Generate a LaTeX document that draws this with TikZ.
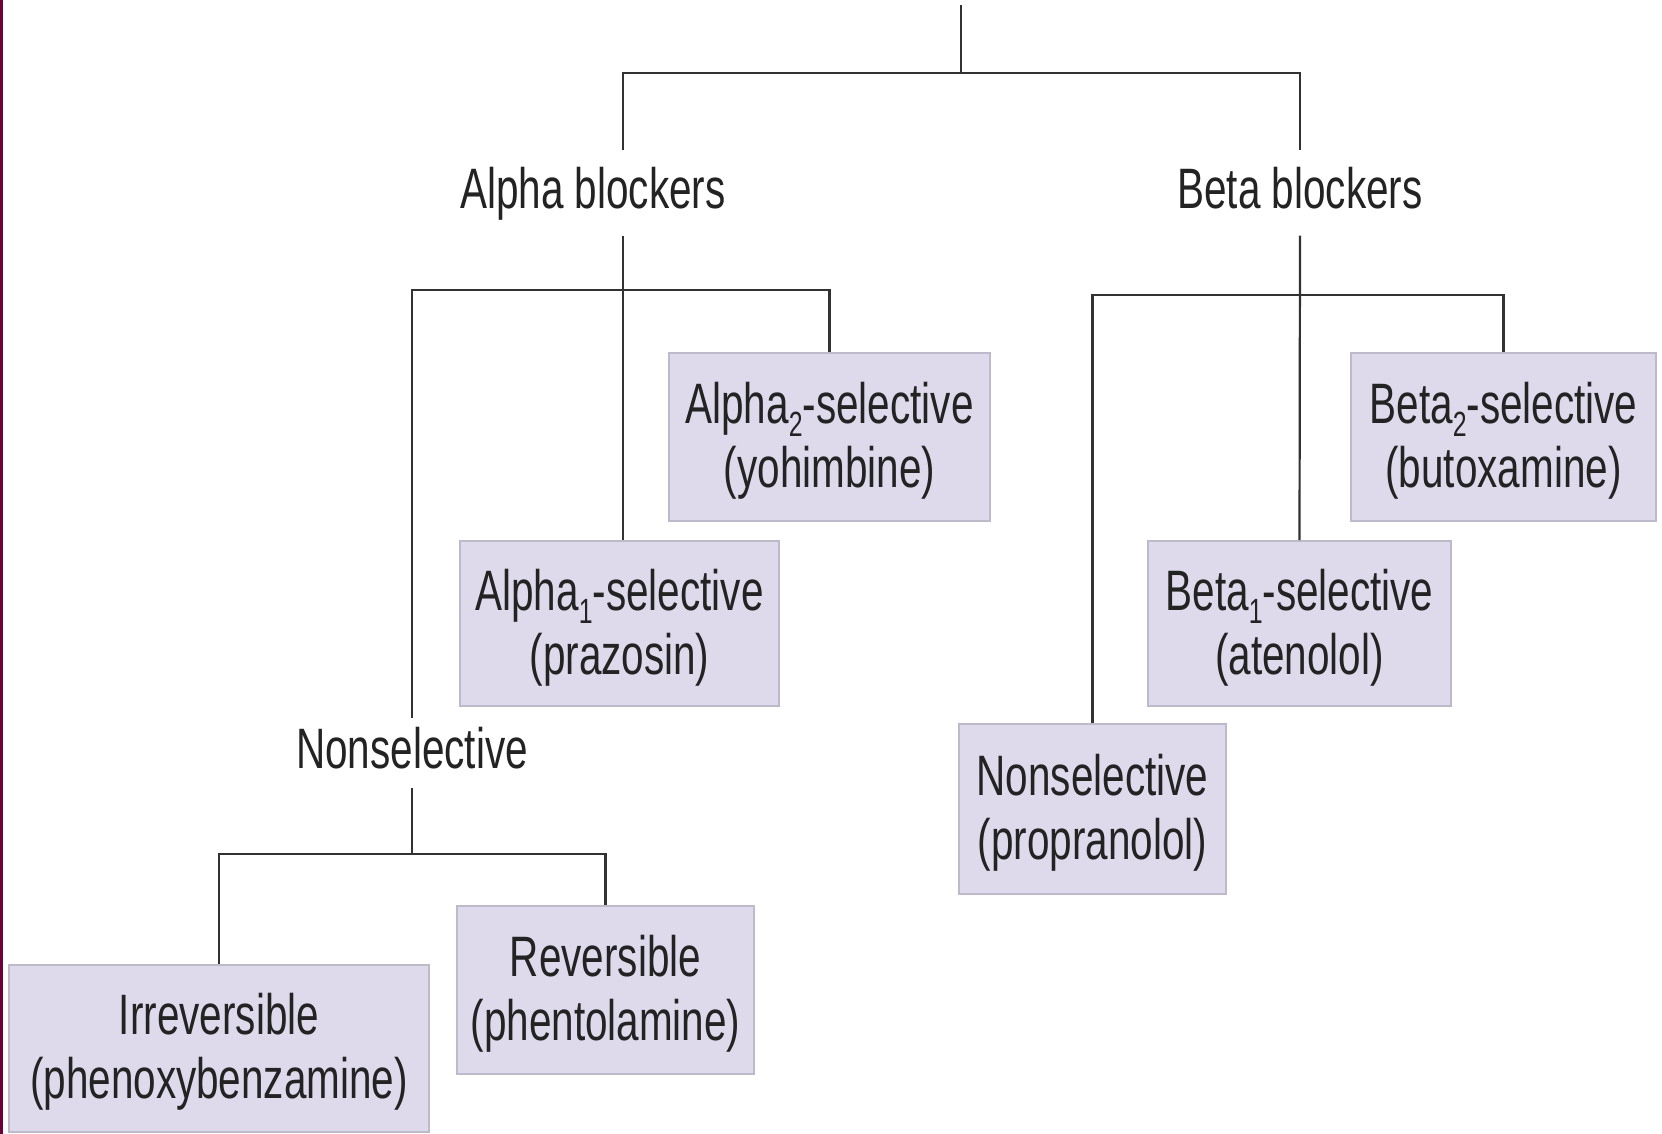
\documentclass[tikz,border=0pt]{standalone}
\usepackage{fontspec}
\setmainfont{Liberation Sans}[FakeStretch=0.71]
\definecolor{boxfill}{RGB}{222,218,236}
\definecolor{boxline}{RGB}{190,186,204}
\definecolor{linec}{RGB}{50,50,50}
\definecolor{txt}{RGB}{35,35,35}
\definecolor{edgec}{RGB}{110,0,55}
\newcommand\upstrut{\rule{0pt}{49pt}}
\newcommand\subx[1]{\raisebox{-13pt}{\fontsize{35}{35}\selectfont #1}}
\begin{document}
\begin{tikzpicture}[x=1pt,y=-1pt,
  box/.style={draw=boxline, line width=2pt, fill=boxfill, align=center, inner sep=0pt, text=txt, font=\fontsize{57}{64}\selectfont},
  lbl/.style={align=center, inner xsep=4pt, text height=42pt, text depth=12pt, text=txt, font=\fontsize{57}{64}\selectfont},
  conn/.style={draw=linec, line width=2.2pt}]
\fill[white] (0,0) rectangle (1662,1134);
\useasboundingbox (0,0) rectangle (1662,1134);
\fill[edgec] (0,0) rectangle (2.5,1134);

% labels
\node[lbl, inner ysep=15.5pt] (aB) at (593,193) {Alpha blockers};
\node[lbl, inner ysep=15.5pt] (bB) at (1300,193) {Beta blockers};
\node[lbl, inner ysep=8pt] (nsA) at (412,753) {Nonselective};

% boxes
\node[box, minimum width=321pt, minimum height=168pt] (a2) at (829.5,437) {\upstrut Alpha\subx{2}-selective\\(yohimbine)};
\node[box, minimum width=319pt, minimum height=165pt] (a1) at (619.5,623.5) {\upstrut Alpha\subx{1}-selective\\(prazosin)};
\node[box, minimum width=420pt, minimum height=167pt] (irr) at (219,1048) {\upstrut Irreversible\\(phenoxybenzamine)};
\node[box, minimum width=297pt, minimum height=168pt] (rev) at (605.5,990) {\upstrut Reversible\\(phentolamine)};
\node[box, minimum width=305pt, minimum height=168pt] (b2) at (1503.5,437) {\upstrut Beta\subx{2}-selective\\(butoxamine)};
\node[box, minimum width=303pt, minimum height=165pt] (b1) at (1299.5,623.5) {\upstrut Beta\subx{1}-selective\\(atenolol)};
\node[box, minimum width=267pt, minimum height=170pt] (bns) at (1092.5,809) {\upstrut Nonselective\\(propranolol)};

% junctions
\coordinate (top) at (961,5);
\coordinate (j0) at (961,73);
\coordinate (aX) at (623,0);
\coordinate (jA) at (623,290);
\coordinate (jB) at (1300,295);
\coordinate (jN) at (412,854);

% connectors
\draw[conn] (top) -- (j0);
\draw[conn] (aB.north -| aX) -- (aX |- j0) -- (bB.north |- j0) -- (bB.north);
\draw[conn] (aB.south -| aX) -- (a1.north -| aX);
\draw[conn] (nsA.north) -- (nsA.north |- jA) -- (a2.north |- jA) -- (a2.north);
\draw[conn] (bB.south) -- (b1.north);
\draw[conn] (bns.north) -- (bns.north |- jB) -- (b2.north |- jB) -- (b2.north);
\draw[conn] (nsA.south) -- (jN);
\draw[conn] (irr.north) -- (irr.north |- jN) -- (rev.north |- jN) -- (rev.north);
\end{tikzpicture}
\end{document}
